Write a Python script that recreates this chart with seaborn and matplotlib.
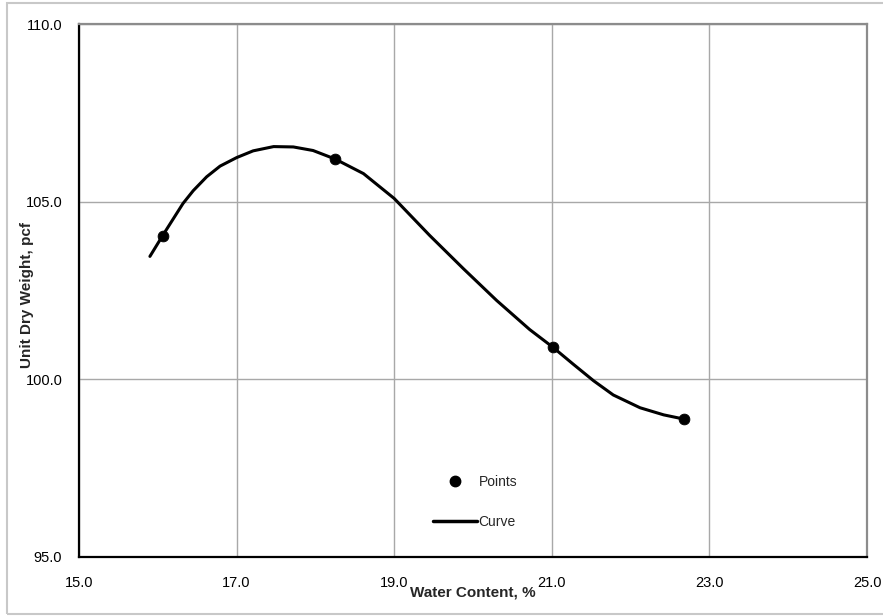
from matplotlib import pyplot as plt
from matplotlib.lines import Line2D
from matplotlib.patches import Rectangle
import seaborn as sns
import pandas as pd

# Test points
point_x = [16.06, 18.25, 21.01, 22.68]
point_y = [104.04, 106.20, 100.91, 98.88]

# Fitted curve
curve_x = [15.90, 16.06, 16.20, 16.32, 16.45, 16.62, 16.79, 17.00, 17.21, 17.47,
           17.72, 17.97, 18.25, 18.61, 19.00, 19.45, 19.88, 20.30, 20.72, 21.01,
           21.27, 21.53, 21.78, 22.12, 22.42, 22.68]
curve_y = [103.46, 104.04, 104.53, 104.95, 105.31, 105.70, 106.00, 106.24, 106.43, 106.55,
           106.54, 106.44, 106.20, 105.79, 105.09, 104.05, 103.11, 102.22, 101.40, 100.91,
           100.43, 99.96, 99.56, 99.20, 99.00, 98.88]

x_ticks = [15, 17, 19, 21, 23, 25]
y_ticks = [95, 100, 105, 110]

points = pd.DataFrame({'w': point_x, 'g': point_y})
curve = pd.DataFrame({'w': curve_x, 'g': curve_y})

sns.set_style("white")
plt.rcParams['font.family'] = ['Liberation Sans', 'DejaVu Sans']

fig = plt.figure(figsize=(8.83, 6.16), dpi=100)
ax = fig.add_axes([79/883, 1 - 557/616, 788/883, 533/616])

sns.lineplot(data=curve, x='w', y='g', sort=False, color='black', linewidth=2.2, ax=ax)
sns.scatterplot(data=points, x='w', y='g', color='black', s=60, edgecolor='black', zorder=3, ax=ax)

ax.set_xlim(15, 25)
ax.set_ylim(95, 110)
ax.set_xticks(x_ticks)
ax.set_yticks(y_ticks)
ax.set_xticklabels([f"{v:.1f}" for v in x_ticks])
ax.set_yticklabels([f"{v:.1f}" for v in y_ticks])
ax.grid(True, color='#a8a8a8', linewidth=1)
ax.set_axisbelow(True)
ax.tick_params(axis='both', direction='out', length=4, width=1, color='#555555',
               labelsize=10.5, labelcolor='black')
ax.tick_params(axis='x', pad=10)
ax.tick_params(axis='y', pad=8)

for side in ['left', 'bottom']:
    ax.spines[side].set_color('black')
    ax.spines[side].set_linewidth(1.6)
for side in ['top', 'right']:
    ax.spines[side].set_color('#8c8c8c')
    ax.spines[side].set_linewidth(1.6)

ax.set_xlabel('Water Content, %', fontsize=11, fontweight='bold')
ax.set_ylabel('Unit Dry Weight, pcf', fontsize=11, fontweight='bold')
ax.xaxis.set_label_coords(0.5, -0.054)
ax.yaxis.set_label_coords(-0.057, 0.492)

handles = [Line2D([], [], linestyle='none', marker='o', color='black', markersize=7.5),
           Line2D([], [], color='black', linewidth=2.5)]
ax.legend(handles, ['Points', 'Curve'], loc='center left', bbox_to_anchor=(0.449, 0.103),
          frameon=False, fontsize=10, handlelength=3.2, handletextpad=0.1,
          labelspacing=1.9, borderpad=0, borderaxespad=0)

# light frame round the whole chart
fig.patches.append(Rectangle((7/883, 2/616), 1.0, 1 - 5/616, transform=fig.transFigure,
                             fill=False, edgecolor='#c8c8c8', linewidth=1.5))

plt.savefig('out.png', dpi=100)
plt.close()
